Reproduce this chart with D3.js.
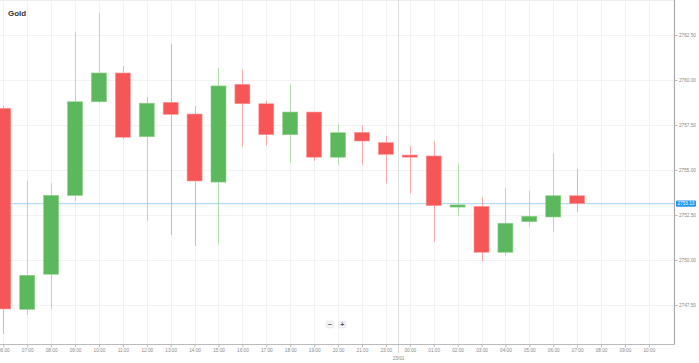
<!DOCTYPE html>
<html>
<head>
<meta charset="utf-8">
<script src="https://cdn.jsdelivr.net/npm/d3@7"></script>
<style>
  body { margin: 0; background: #fff; overflow: hidden; }
  svg { display: block; font-family: "Liberation Sans", Arial, sans-serif; }
</style>
</head>
<body>
<div id="chart"></div>
<script>
// hourly candles, 22/01 06:00 -> 23/01 07:00 (no 22:00 bar)
const times = ["06:00", "07:00", "08:00", "09:00", "10:00", "11:00", "12:00", "13:00", "14:00",
  "15:00", "16:00", "17:00", "18:00", "19:00", "20:00", "21:00", "23:00", "00:00", "01:00",
  "02:00", "03:00", "04:00", "05:00", "06:00", "07:00"];
const open = [2758.43, 2747.26, 2749.21, 2753.59, 2758.79, 2760.39, 2756.85, 2758.76, 2758.11,
  2754.33, 2759.76, 2758.68, 2756.96, 2758.22, 2755.71, 2757.09, 2756.52, 2755.83, 2755.78,
  2752.94, 2752.98, 2750.43, 2752.13, 2752.39, 2753.57];
const high = [2758.57, 2754.41, 2754.26, 2762.67, 2763.74, 2760.78, 2759.07, 2762.0, 2758.57,
  2760.67, 2760.59, 2758.87, 2759.76, 2758.22, 2757.54, 2757.48, 2756.91, 2756.33, 2756.61,
  2755.35, 2753.5, 2753.98, 2753.85, 2755.93, 2755.06];
const low = [2745.89, 2746.94, 2747.28, 2753.28, 2758.72, 2756.71, 2752.18, 2751.39, 2750.78,
  2750.87, 2756.29, 2756.35, 2755.39, 2755.5, 2755.26, 2755.29, 2754.26, 2753.69, 2751.0,
  2752.46, 2749.93, 2750.24, 2751.82, 2751.54, 2752.65];
const close = [2747.28, 2749.15, 2753.59, 2758.79, 2760.39, 2756.82, 2758.71, 2758.09, 2754.39,
  2759.67, 2758.68, 2756.96, 2758.22, 2755.71, 2757.07, 2756.61, 2755.87, 2755.71, 2753.02,
  2753.06, 2750.43, 2752.04, 2752.43, 2753.57, 2753.13];
const futureTimes = ["08:00", "09:00", "10:00"];
const yTicks = [2747.5, 2750, 2752.5, 2755, 2757.5, 2760, 2762.5];
const lastPrice = 2753.13;
const dayLabel = "23/01";
const title = "Gold";

const W = 699, H = 363;
const plotRight = 674.5, plotBottom = 344.5;
const axisLabels = times.concat(futureTimes);

const svg = d3.select("#chart").append("svg")
  .attr("width", W).attr("height", H);

const x = d3.scaleLinear()
  .domain([0, axisLabels.length - 1])
  .range([3.3, 3.3 + 23.91 * (axisLabels.length - 1)]);
const y = d3.scaleLinear()
  .domain([2747.5, 2762.5])
  .range([305, 35]);

const data = times.map((t, i) => ({ i: i, t: t, o: open[i], h: high[i], l: low[i], c: close[i] }));

// top border
svg.append("line").attr("x1", 0).attr("x2", plotRight).attr("y1", 0.5).attr("y2", 0.5)
  .attr("stroke", "#eee");

// grid
svg.append("g").selectAll("line").data(yTicks).join("line")
  .attr("x1", 0).attr("x2", plotRight)
  .attr("y1", d => Math.round(y(d)) + 0.5).attr("y2", d => Math.round(y(d)) + 0.5)
  .attr("stroke", "#f2f2f2");
svg.append("g").selectAll("line").data(d3.range(axisLabels.length)).join("line")
  .attr("x1", d => Math.round(x(d)) + 0.5).attr("x2", d => Math.round(x(d)) + 0.5)
  .attr("y1", 0).attr("y2", plotBottom)
  .attr("stroke", "#f2f2f2");

// day separator between 23:00 and 00:00
const sepX = Math.round((x(16) + x(17)) / 2) + 0.5;
svg.append("line").attr("x1", sepX).attr("x2", sepX).attr("y1", 0).attr("y2", plotBottom)
  .attr("stroke", "#ddd");
svg.append("line").attr("x1", sepX).attr("x2", sepX).attr("y1", plotBottom).attr("y2", 353)
  .attr("stroke", "#aaa").attr("stroke-dasharray", "1,1");
svg.append("text").attr("x", sepX).attr("y", 359.5).attr("text-anchor", "middle")
  .attr("font-size", 4.7).attr("fill", "#888").text(dayLabel);

// last price line
svg.append("line").attr("x1", 0).attr("x2", plotRight)
  .attr("y1", y(lastPrice)).attr("y2", y(lastPrice))
  .attr("stroke", "#8ccaf2").attr("stroke-width", 0.8);

// candles
const up = "#5cb85c", down = "#f75656";
const upWick = "#b3dcae", downWick = "#f9a9a9";
const candles = svg.append("g").selectAll("g").data(data).join("g");
candles.append("line")
  .attr("x1", d => Math.round(x(d.i)) + 0.5).attr("x2", d => Math.round(x(d.i)) + 0.5)
  .attr("y1", d => y(d.h)).attr("y2", d => y(d.l))
  .attr("stroke", d => d.c >= d.o ? upWick : downWick);
candles.append("rect")
  .attr("x", d => x(d.i) - 7.5)
  .attr("width", 15)
  .attr("y", d => y(Math.max(d.o, d.c)))
  .attr("height", d => Math.max(1.5, Math.abs(y(d.o) - y(d.c))))
  .attr("fill", d => d.c >= d.o ? up : down)
  .attr("stroke", d => d.c >= d.o ? "#8fd08a" : "#fb9b9b")
  .attr("stroke-width", 0.6);

// axes
const xAxis = svg.append("g").attr("transform", `translate(0,${plotBottom})`)
  .call(d3.axisBottom(x)
    .tickValues(d3.range(axisLabels.length))
    .tickFormat(i => axisLabels[i])
    .tickSize(3).tickPadding(1.5));
xAxis.select(".domain").attr("d", `M0,0H${plotRight}`).attr("stroke", "#bbb").attr("stroke-width", 1.2);
xAxis.selectAll(".tick line").attr("stroke", "#bbb");
xAxis.selectAll("text").attr("font-size", 4.7).attr("fill", "#888").attr("font-family", "Liberation Sans, Arial, sans-serif");

const yAxis = svg.append("g").attr("transform", `translate(${plotRight},0)`)
  .call(d3.axisRight(y)
    .tickValues(yTicks)
    .tickFormat(d3.format(".2f"))
    .tickSize(3).tickPadding(1.5));
yAxis.select(".domain").attr("d", `M0,0V${plotBottom}`).attr("stroke", "#aaa").attr("stroke-width", 1.2);
yAxis.selectAll(".tick line").attr("stroke", "#bbb");
yAxis.selectAll("text").attr("font-size", 4.7).attr("fill", "#888").attr("font-family", "Liberation Sans, Arial, sans-serif");

// last price tag
const tag = svg.append("g").attr("transform", `translate(${plotRight + 1.5},${y(lastPrice)})`);
tag.append("rect").attr("x", 0).attr("y", -3.2).attr("width", 20).attr("height", 6.4)
  .attr("rx", 1).attr("fill", "#2196f3");
tag.append("text").attr("x", 10).attr("y", 1.7).attr("text-anchor", "middle")
  .attr("font-size", 4.7).attr("fill", "#fff").text(d3.format(".2f")(lastPrice));

// title
svg.append("text").attr("x", 8).attr("y", 15.5).attr("font-size", 8).attr("font-weight", "bold")
  .attr("fill", "#333").text(title);

// zoom buttons
const zoomBtns = svg.append("g").attr("transform", "translate(326,321)");
[["\u2212", 0], ["+", 12.5]].forEach(([s, dx]) => {
  zoomBtns.append("rect").attr("x", dx).attr("y", 0).attr("width", 7.5).attr("height", 7)
    .attr("rx", 1).attr("fill", "#f2f2f2").attr("stroke", "#e4e4e4").attr("stroke-width", 0.5);
  zoomBtns.append("text").attr("x", dx + 3.75).attr("y", 5.6).attr("text-anchor", "middle")
    .attr("font-size", 7).attr("font-weight", "bold").attr("fill", "#555").text(s);
});
</script>
</body>
</html>
